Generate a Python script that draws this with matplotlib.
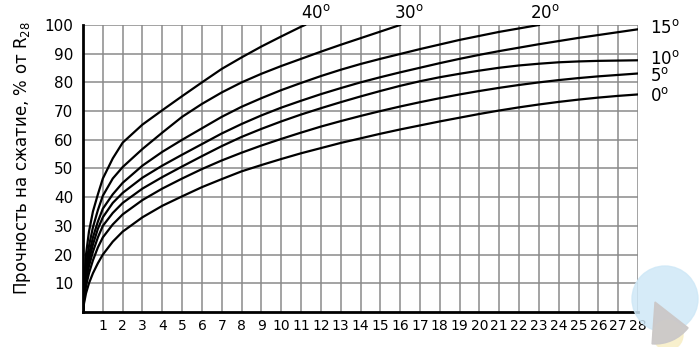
#!/usr/bin/env python
# Concrete strength gain vs curing time at different temperatures
import matplotlib

matplotlib.use("Agg")
import matplotlib.pyplot as plt
from matplotlib.patches import Circle, Wedge

# ---- data (day -> % of R28) ----
days = [0, 0.05, 0.15, 0.3, 0.5, 0.75, 1, 1.5, 2, 3, 4, 5, 6, 7, 8, 9, 10, 11, 12, 13,
        14, 15, 16, 17, 18, 19, 20, 21, 22, 23, 24, 25, 26, 27, 28]

days_40 = days[:18] + [11.2]
vals_40 = [0, 10, 20, 28, 35, 41, 46.5, 53.5, 59, 65.3, 70.3, 75.2, 80, 84.7, 88.7,
           92.5, 96, 99.4, 100]

days_30 = days[:23]
vals_30 = [0, 8, 16, 23, 29.5, 35.5, 40.5, 46.5, 50.5, 56.8, 62.5, 68, 72.5, 76.5, 80,
           83, 85.7, 88.2, 90.7, 93.1, 95.4, 97.7, 100]

days_20 = days[:30]
vals_20 = [0, 7, 14, 20, 26, 31.5, 36, 41, 45, 51, 55.8, 60, 64, 68, 71.5, 74.5, 77.3,
           79.8, 82.2, 84.4, 86.4, 88.2, 89.9, 91.6, 93.2, 94.8, 96.2, 97.6, 98.8, 100]

vals_15 = [0, 6, 12.5, 18, 23.5, 29, 33, 38, 41.5, 46.8, 51, 54.8, 58.5, 62.2, 65.5,
           68.5, 71.2, 73.6, 75.9, 78, 80, 81.8, 83.5, 85.1, 86.7, 88.2, 89.6, 90.9,
           92.1, 93.3, 94.4, 95.5, 96.5, 97.5, 98.5]
vals_10 = [0, 5, 11, 16, 21, 26, 30, 34.5, 38, 43, 47, 50.7, 54.3, 57.8, 61, 63.8, 66.4,
           68.8, 71, 73.1, 75.1, 77, 78.8, 80.4, 81.8, 83, 84.1, 85.1, 85.9, 86.5, 87,
           87.3, 87.5, 87.6, 87.7]
vals_5 = [0, 4, 9, 13.5, 18, 22.5, 26, 30.5, 34, 39, 43, 46.5, 49.8, 52.8, 55.5, 58,
          60.3, 62.5, 64.6, 66.5, 68.3, 70, 71.6, 73.1, 74.5, 75.8, 77, 78.1, 79.1, 80,
          80.8, 81.5, 82.1, 82.6, 83.1]
vals_0 = [0, 3, 6.5, 10, 13.5, 17, 20, 24.5, 28, 33, 37, 40.3, 43.5, 46.3, 49, 51.2,
          53.3, 55.3, 57.1, 58.9, 60.5, 62.1, 63.6, 65, 66.4, 67.7, 69, 70.2, 71.3,
          72.3, 73.2, 74, 74.7, 75.3, 75.8]

x_ticks = list(range(1, 29))
y_ticks = list(range(10, 101, 10))

fig = plt.figure(figsize=(7.0, 3.47), dpi=100)
ax = fig.add_axes([0.1186, 0.1009, 0.7928, 0.8271])

for dd, vv in [(days_40, vals_40), (days_30, vals_30), (days_20, vals_20),
               (days, vals_15), (days, vals_10), (days, vals_5), (days, vals_0)]:
    ax.plot(dd, vv, color="black", lw=1.6, solid_joinstyle="round", zorder=3)

ax.set_xlim(0, 28)
ax.set_ylim(0, 100)
ax.set_xticks(x_ticks)
ax.set_yticks(y_ticks)
ax.tick_params(length=0, labelsize=10)
ax.tick_params(axis="y", labelsize=11, pad=7)
ax.tick_params(axis="x", pad=5)
ax.grid(True, color="#8a8a8a", lw=1.1)
ax.set_axisbelow(True)

for s in ["top", "right"]:
    ax.spines[s].set_visible(False)
for s in ["left", "bottom"]:
    ax.spines[s].set_linewidth(2)
    ax.spines[s].set_zorder(4)

ax.set_ylabel("Прочность на сжатие, % от R$_{28}$", fontsize=12)
ax.yaxis.set_label_coords(-0.09, 0.535)

# temperature labels
lab_kw = dict(fontsize=12, clip_on=False)
ax.text(11.75, 101.0, r"40$^{\rm o}$", ha="center", va="bottom", **lab_kw)
ax.text(16.45, 101.0, r"30$^{\rm o}$", ha="center", va="bottom", **lab_kw)
ax.text(23.3, 101.0, r"20$^{\rm o}$", ha="center", va="bottom", **lab_kw)
ax.text(28.6, 99.0, r"15$^{\rm o}$", ha="left", va="center", **lab_kw)
ax.text(28.6, 88.2, r"10$^{\rm o}$", ha="left", va="center", **lab_kw)
ax.text(28.6, 82.2, r"5$^{\rm o}$", ha="left", va="center", **lab_kw)
ax.text(28.6, 75.2, r"0$^{\rm o}$", ha="left", va="center", **lab_kw)

# faint site watermark in the corner
tr = fig.dpi_scale_trans
fig.patches.append(Circle((6.65, 0.48), 0.33, transform=tr, color="#cfe8f7",
                          alpha=0.85, zorder=0))
fig.patches.append(Circle((6.68, 0.12), 0.15, transform=tr, color="#f8efc8",
                          alpha=0.9, zorder=1))
fig.patches.append(Wedge((6.55, 0.45), 0.42, 266, 322, transform=tr,
                         color="#cbc8c8", alpha=0.95, zorder=2))

fig.savefig("out.png", dpi=100)
